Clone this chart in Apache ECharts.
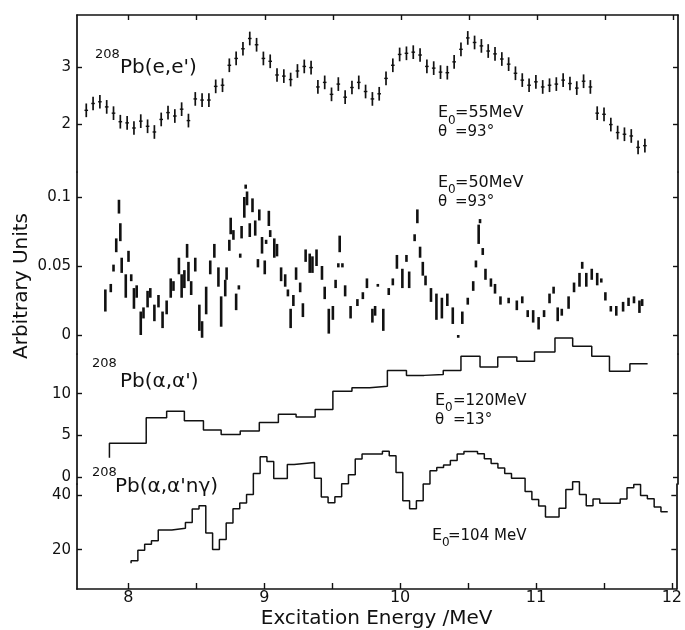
<!DOCTYPE html>
<html>
<head>
<meta charset="utf-8">
<script src="https://cdn.jsdelivr.net/npm/echarts@6.0.0/dist/echarts.min.js"></script>
<style>html,body{margin:0;padding:0;background:#fff}#c{width:685px;height:630px}</style>
</head>
<body>
<div id="c"></div>
<script>
// ---------------- data ----------------
const X_TICKS = [8, 8.5, 9, 9.5, 10, 10.5, 11, 11.5, 12];
const X_LABELS = [8, 9, 10, 11, 12];
const Y1_TICKS = [2, 3];
const Y2_TICKS = [0, 0.05, 0.1];
const Y3_TICKS = [0, 5, 10];
const Y4_TICKS = [20, 40];

// 208Pb(e,e') E0=55 MeV : energies, values, error half-length
const E1 = [7.69,7.74,7.79,7.84,7.89,7.94,7.99,8.04,8.09,8.14,8.19,8.24,8.29,8.34,8.39,8.44,8.49,8.54,8.59,8.64,
  8.69,8.74,8.79,8.84,8.89,8.94,8.99,9.04,9.09,9.14,9.19,9.24,9.29,9.34,9.39,9.44,9.49,9.54,9.59,9.64,
  9.69,9.74,9.79,9.84,9.89,9.94,9.99,10.04,10.09,10.14,10.19,10.24,10.29,10.34,10.39,10.44,10.49,10.54,10.59,10.64,
  10.69,10.74,10.79,10.84,10.89,10.94,10.99,11.04,11.09,11.14,11.19,11.24,11.29,11.34,11.39,11.44,11.49,11.54,11.59,11.64,
  11.69,11.74,11.79];
const V1 = [2.24,2.36,2.39,2.30,2.19,2.04,2.02,1.93,2.05,1.96,
  1.86,2.08,2.20,2.14,2.26,2.06,2.44,2.42,2.42,2.66,
  2.68,3.03,3.15,3.32,3.50,3.39,3.15,3.10,2.86,2.84,
  2.78,2.93,3.01,2.99,2.65,2.73,2.52,2.70,2.47,2.64,
  2.73,2.57,2.44,2.53,2.80,3.03,3.22,3.24,3.26,3.21,
  3.01,2.98,2.91,2.90,3.09,3.31,3.51,3.43,3.37,3.28,
  3.23,3.14,3.05,2.89,2.77,2.68,2.74,2.65,2.68,2.70,
  2.77,2.71,2.63,2.75,2.65,2.19,2.17,1.99,1.85,1.82,
  1.79,1.59,1.62];
const E1_ERR = 0.12;

// E0=50 MeV high-resolution spectrum: energy, low and high of each streak of points
const E2 = [7.83,7.87,7.89,7.91,7.93,7.94,7.95,7.98,8.00,8.02,8.04,8.06,8.09,8.11,8.14,8.16,8.19,8.22,8.25,8.28,
  8.31,8.33,8.37,8.39,8.41,8.43,8.44,8.46,8.49,8.52,8.54,8.57,8.60,8.63,8.66,8.68,8.71,8.72,8.74,8.75,
  8.77,8.79,8.81,8.82,8.83,8.85,8.86,8.87,8.89,8.91,8.93,8.95,8.96,8.98,9.00,9.01,9.03,9.04,9.07,9.09,
  9.12,9.15,9.17,9.19,9.21,9.23,9.26,9.28,9.30,9.33,9.35,9.38,9.42,9.44,9.47,9.50,9.52,9.54,9.55,9.57,
  9.59,9.63,9.68,9.72,9.75,9.79,9.81,9.83,9.87,9.91,9.94,9.97,10.01,10.04,10.06,10.10,10.12,10.14,10.16,10.18,
  10.22,10.26,10.30,10.34,10.38,10.42,10.45,10.49,10.53,10.55,10.57,10.58,10.60,10.62,10.66,10.69,10.73,10.79,10.85,10.89,
  10.93,10.97,11.01,11.05,11.09,11.12,11.15,11.18,11.23,11.27,11.31,11.33,11.36,11.40,11.44,11.47,11.50,11.54,11.58,11.63,
  11.67,11.71,11.75,11.77];
const LO2 = [0.017,0.031,0.046,0.060,0.088,0.068,0.045,0.027,0.053,0.039,0.019,0.027,0.000,0.012,0.020,0.027,0.010,0.020,0.005,0.015,
  0.027,0.032,0.044,0.027,0.034,0.056,0.039,0.029,0.046,0.003,-0.002,0.015,0.044,0.056,0.035,0.006,0.028,0.040,0.061,0.073,
  0.069,0.018,0.033,0.056,0.070,0.085,0.106,0.094,0.071,0.089,0.072,0.049,0.083,0.059,0.044,0.066,0.079,0.071,0.056,0.057,
  0.039,0.035,0.028,0.005,0.021,0.040,0.031,0.013,0.053,0.045,0.045,0.050,0.040,0.026,0.001,0.011,0.034,0.049,0.060,0.049,
  0.028,0.012,0.021,0.026,0.034,0.009,0.014,0.035,0.003,0.029,0.036,0.048,0.034,0.053,0.034,0.068,0.081,0.056,0.043,0.036,
  0.024,0.011,0.012,0.021,0.008,-0.002,0.008,0.022,0.032,0.049,0.066,0.081,0.058,0.040,0.035,0.030,0.022,0.023,0.018,0.023,
  0.013,0.009,0.004,0.013,0.023,0.030,0.010,0.014,0.019,0.031,0.035,0.048,0.035,0.040,0.036,0.038,0.025,0.017,0.014,0.017,
  0.021,0.023,0.016,0.021];
const HI2 = [0.033,0.037,0.051,0.070,0.098,0.081,0.056,0.044,0.061,0.044,0.034,0.036,0.017,0.020,0.032,0.034,0.022,0.029,0.017,0.025,
  0.041,0.039,0.056,0.044,0.047,0.066,0.053,0.039,0.056,0.022,0.010,0.035,0.054,0.066,0.049,0.028,0.040,0.049,0.069,0.085,
  0.076,0.030,0.036,0.059,0.079,0.100,0.109,0.104,0.081,0.099,0.083,0.055,0.091,0.071,0.054,0.069,0.090,0.076,0.070,0.066,
  0.049,0.044,0.033,0.019,0.029,0.049,0.038,0.023,0.062,0.059,0.057,0.062,0.050,0.035,0.019,0.021,0.040,0.052,0.072,0.052,
  0.036,0.021,0.026,0.031,0.041,0.019,0.021,0.037,0.019,0.034,0.041,0.058,0.048,0.058,0.046,0.073,0.091,0.064,0.053,0.043,
  0.034,0.030,0.027,0.030,0.020,0.000,0.017,0.027,0.039,0.054,0.080,0.084,0.063,0.048,0.041,0.037,0.028,0.027,0.025,0.028,
  0.018,0.018,0.013,0.018,0.030,0.035,0.020,0.019,0.028,0.038,0.045,0.053,0.045,0.048,0.045,0.041,0.031,0.021,0.021,0.024,
  0.027,0.028,0.025,0.026];

// 208Pb(alpha,alpha') E0=120 MeV histogram: bin edges and bin contents
const A3_EDGES = [7.86,8.13,8.28,8.41,8.55,8.68,8.82,8.96,9.10,9.23,9.37,9.50,9.64,9.77,9.90,10.04,10.17,10.31,10.44,10.58,
  10.71,10.85,10.98,11.13,11.26,11.40,11.53,11.68,11.81];
const A3_VALS = [4.05,7.1,7.9,6.75,5.65,5.1,5.52,6.55,7.54,7.19,8.09,10.3,10.7,10.9,12.8,12.2,12.3,12.8,14.5,13.2,
  14.4,13.9,15.0,16.7,15.7,14.5,12.7,13.6];
const A3_START = 2.3;

// 208Pb(alpha,alpha'n gamma) E0=104 MeV histogram
const A4_EDGES = [8.02,8.07,8.12,8.17,8.22,8.32,8.42,8.47,8.52,8.57,8.62,8.67,8.72,8.77,8.82,8.87,8.92,8.97,9.02,9.07,
  9.17,9.22,9.37,9.42,9.47,9.52,9.57,9.62,9.67,9.72,9.87,9.92,9.97,10.02,10.07,10.12,10.17,10.22,10.27,10.32,
  10.37,10.42,10.47,10.57,10.62,10.67,10.72,10.77,10.82,10.92,10.97,11.02,11.07,11.17,11.22,11.27,11.32,11.37,11.42,11.47,
  11.52,11.62,11.67,11.72,11.77,11.82,11.87,11.92,11.97];
const A4_VALS = [15.9,19.8,22.0,23.3,27.2,27.9,30.0,34.9,36.1,26.1,
  20.1,23.7,29.8,35.0,37.1,40.3,48.0,54.1,52.4,46.1,
  51.3,52.0,46.2,39.3,37.2,39.4,44.2,47.5,53.3,55.1,
  56.1,54.5,48.3,38.0,35.0,38.0,44.1,49.0,50.2,51.1,
  52.7,55.1,56.0,55.2,53.4,51.6,50.0,48.0,46.2,41.4,
  38.4,36.0,32.0,35.2,42.1,44.9,40.3,36.1,38.6,37.0,
  37.0,38.6,42.7,43.9,39.9,38.7,35.7,33.9];
const A4_START = 15.0;

// axis ranges of the four stacked panels
const X_RANGE = [7.622, 12.033];
const Y_RANGES = [[1.158, 3.912], [-0.01377, 0.11812], [-0.84, 14.766], [5.564, 44.109]];

// ---------------- chart ----------------
const FONT = '"DejaVu Sans", sans-serif';
const INK = '#111';
const GRID_Y = [15, 172, 354, 484, 590];
const Y_TICKS = [Y1_TICKS, Y2_TICKS, Y3_TICKS, Y4_TICKS];

function stepLine(edges, vals, start) {
  const pts = [[edges[0], start]];
  for (let i = 0; i < vals.length; i++) {
    pts.push([edges[i], vals[i]]);
    pts.push([edges[i + 1], vals[i]]);
  }
  return pts;
}

const grids = [], xAxes = [], yAxes = [];
for (let i = 0; i < 4; i++) {
  grids.push({left: 77, width: 601, top: GRID_Y[i], height: GRID_Y[i + 1] - GRID_Y[i], containLabel: false});
}
const axLine = {show: true, onZero: false, lineStyle: {color: INK, width: 1.7}};
for (let i = 0; i < 4; i++) {
  const base = {type: 'value', gridIndex: i, min: X_RANGE[0], max: X_RANGE[1], splitLine: {show: false}};
  if (i === 0) {
    xAxes.push(Object.assign(base, {position: 'top', axisLine: axLine,
      axisTick: {show: true, inside: true, length: 5, customValues: X_TICKS, lineStyle: {color: INK, width: 1.4}},
      axisLabel: {show: false}}));
  } else if (i === 3) {
    xAxes.push(Object.assign(base, {position: 'bottom', axisLine: axLine,
      axisTick: {show: true, inside: true, length: 6, customValues: X_TICKS, lineStyle: {color: INK, width: 1.4}},
      axisLabel: {show: true, customValues: X_LABELS, margin: 1, fontSize: 16, fontFamily: FONT, color: INK},
      name: 'Excitation Energy /MeV', nameLocation: 'middle', nameGap: 20,
      nameTextStyle: {fontSize: 20, fontFamily: FONT, color: INK}}));
  } else {
    xAxes.push(Object.assign(base, {show: false}));
  }
}
for (let side = 0; side < 2; side++) {
  for (let i = 0; i < 4; i++) {
    yAxes.push({
      type: 'value', gridIndex: i, position: side === 0 ? 'left' : 'right',
      min: Y_RANGES[i][0], max: Y_RANGES[i][1],
      axisLine: axLine,
      axisTick: {show: true, inside: true, length: 5, customValues: Y_TICKS[i], lineStyle: {color: INK, width: 1.4}},
      axisLabel: side === 0
        ? {show: true, customValues: Y_TICKS[i], margin: 6, fontSize: 15, fontFamily: FONT, color: INK}
        : {show: false},
      splitLine: {show: false}
    });
  }
}

const series = [
  {
    type: 'custom', xAxisIndex: 0, yAxisIndex: 0, clip: false, silent: true,
    encode: {x: 0, y: 1},
    data: E1.map((e, i) => [e, V1[i]]),
    renderItem: function (params, api) {
      const x = api.value(0), y = api.value(1);
      const lo = api.coord([x, y - E1_ERR]), hi = api.coord([x, y + E1_ERR]), c = api.coord([x, y]);
      return {type: 'group', children: [
        {type: 'line', shape: {x1: lo[0], y1: lo[1], x2: hi[0], y2: hi[1]}, style: {stroke: INK, lineWidth: 1.7}},
        {type: 'line', shape: {x1: c[0] - 1.8, y1: c[1], x2: c[0] + 1.8, y2: c[1]}, style: {stroke: INK, lineWidth: 1.4}}
      ]};
    }
  },
  {
    type: 'custom', xAxisIndex: 1, yAxisIndex: 1, clip: false, silent: true,
    encode: {x: 0, y: [1, 2]},
    data: E2.map((e, i) => [e, LO2[i], HI2[i]]),
    renderItem: function (params, api) {
      const x = api.value(0);
      const a = api.coord([x, api.value(1)]), b = api.coord([x, api.value(2)]);
      let y1 = a[1], y2 = b[1];
      if (Math.abs(y1 - y2) < 2) { y1 += 1; y2 -= 1; }
      return {type: 'line', shape: {x1: a[0], y1: y1, x2: b[0], y2: y2}, style: {stroke: INK, lineWidth: 2.6}};
    }
  },
  {
    type: 'line', xAxisIndex: 2, yAxisIndex: 2, clip: false, silent: true, symbol: 'none',
    data: stepLine(A3_EDGES, A3_VALS, A3_START),
    lineStyle: {color: INK, width: 1.5}
  },
  {
    type: 'line', xAxisIndex: 3, yAxisIndex: 3, clip: false, silent: true, symbol: 'none',
    data: stepLine(A4_EDGES, A4_VALS, A4_START),
    lineStyle: {color: INK, width: 1.5}
  }
];

function T(x, y, text, size) {
  return {type: 'text', x: x, y: y, silent: true, z: 10,
    style: {text: text, fontSize: size, fontFamily: FONT, fill: INK, textAlign: 'left', textVerticalAlign: 'middle'}};
}
const graphics = [
  {type: 'text', x: 21.5, y: 286, rotation: Math.PI / 2, silent: true,
    style: {text: 'Arbitrary Units', fontSize: 20, fontFamily: FONT, fill: INK, textAlign: 'center', textVerticalAlign: 'middle'}},
  T(95, 54.5, '208', 13), T(120, 67.5, "Pb(e,e')", 20),
  T(438, 112.5, 'E', 16), T(448, 121, '0', 12), T(455, 112.5, '=55MeV', 16),
  T(438, 132, 'θ', 15), T(455, 132, '=93°', 15),
  T(438, 182.5, 'E', 16), T(448, 190, '0', 12), T(455, 182.5, '=50MeV', 16),
  T(438, 202, 'θ', 15), T(455, 202, '=93°', 15),
  T(92, 363.5, '208', 13), T(120, 381.5, "Pb(α,α')", 20),
  T(435, 401, 'E', 16), T(445, 408, '0', 12), T(453, 401, '=120MeV', 15),
  T(435, 420, 'θ', 15), T(453, 420, '=13°', 15),
  T(92, 473, '208', 13), T(115, 486.5, "Pb(α,α'nγ)", 20),
  T(432, 536, 'E', 16), T(442, 542.5, '0', 12), T(448, 536, '=104 MeV', 15)
];

const chart = echarts.init(document.getElementById('c'), null, {renderer: 'canvas'});
chart.setOption({
  backgroundColor: '#fff',
  animation: false,
  grid: grids,
  xAxis: xAxes,
  yAxis: yAxes,
  series: series,
  graphic: graphics
});
</script>
</body>
</html>
